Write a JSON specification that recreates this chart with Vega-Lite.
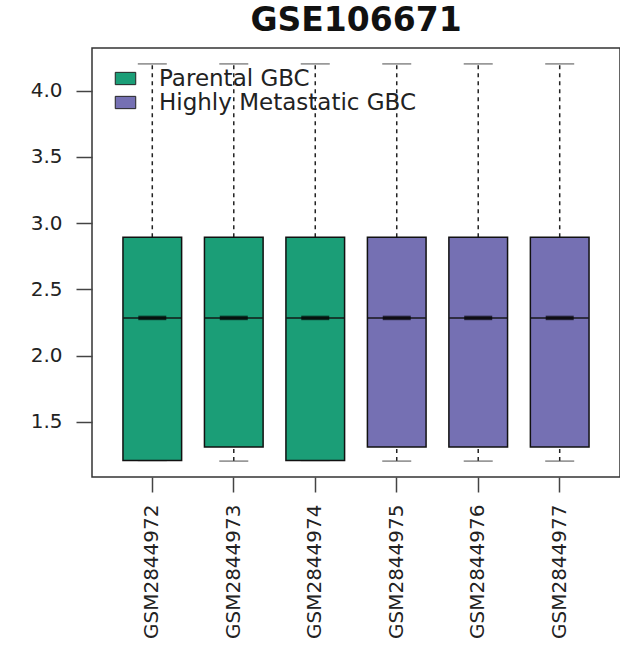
{
  "$schema": "https://vega.github.io/schema/vega-lite/v6.json",
  "width": 528,
  "height": 429,
  "autosize": {"type": "pad"},
  "padding": {"left": 30, "top": 5, "right": 0, "bottom": 5},
  "background": "white",
  "title": {"text": "GSE106671", "font": "DejaVu Sans", "fontWeight": "bold", "fontSize": 33, "color": "#111", "anchor": "middle", "frame": "group", "offset": 10},
  "config": {"view": {"stroke": "#333", "strokeWidth": 1.5}},
  "data": {"values": [
    {"sample": "GSM2844972", "group": "Parental GBC", "lower": 1.208, "q1": 1.208, "median": 2.284, "q3": 2.894, "upper": 4.202},
    {"sample": "GSM2844973", "group": "Parental GBC", "lower": 1.203, "q1": 1.31, "median": 2.284, "q3": 2.894, "upper": 4.202},
    {"sample": "GSM2844974", "group": "Parental GBC", "lower": 1.208, "q1": 1.208, "median": 2.284, "q3": 2.894, "upper": 4.202},
    {"sample": "GSM2844975", "group": "Highly Metastatic GBC", "lower": 1.203, "q1": 1.31, "median": 2.284, "q3": 2.894, "upper": 4.202},
    {"sample": "GSM2844976", "group": "Highly Metastatic GBC", "lower": 1.203, "q1": 1.31, "median": 2.284, "q3": 2.894, "upper": 4.202},
    {"sample": "GSM2844977", "group": "Highly Metastatic GBC", "lower": 1.203, "q1": 1.31, "median": 2.284, "q3": 2.894, "upper": 4.202}
  ]},
  "encoding": {
    "x": {
      "field": "sample", "type": "nominal", "sort": null,
      "scale": {"paddingInner": 0.28, "paddingOuter": 0.38},
      "axis": {"title": null, "labelAngle": -90, "labelAlign": "right", "labelBaseline": "middle", "tickSize": 15, "tickColor": "#444", "tickWidth": 1.5, "labelPadding": 12, "domain": false, "labelFontSize": 20, "labelFont": "DejaVu Sans", "labelColor": "#222", "labelLimit": 0}
    }
  },
  "layer": [
    {
      "mark": {"type": "rule", "strokeDash": [4, 4], "color": "#222", "strokeWidth": 1.5},
      "encoding": {
        "y": {"field": "q3", "type": "quantitative", "scale": {"domain": [1.083, 4.322], "nice": false, "zero": false},
          "axis": {"title": null, "values": [1.5, 2, 2.5, 3, 3.5, 4], "format": ".1f", "grid": false, "domain": false, "tickSize": 16, "tickColor": "#444", "tickWidth": 1.5, "labelFontSize": 20, "labelFont": "DejaVu Sans", "labelColor": "#222", "labelPadding": 14}},
        "y2": {"field": "upper"}
      }
    },
    {
      "mark": {"type": "rule", "strokeDash": [4, 4], "color": "#222", "strokeWidth": 1.5},
      "encoding": {"y": {"field": "lower", "type": "quantitative"}, "y2": {"field": "q1"}}
    },
    {
      "mark": {"type": "tick", "size": 29, "thickness": 1.5, "color": "#555"},
      "encoding": {"y": {"field": "upper", "type": "quantitative"}}
    },
    {
      "mark": {"type": "tick", "size": 29, "thickness": 1.5, "color": "#555"},
      "encoding": {"y": {"field": "lower", "type": "quantitative"}}
    },
    {
      "mark": {"type": "bar", "stroke": "#111", "strokeWidth": 1.5, "opacity": 1},
      "encoding": {
        "y": {"field": "q1", "type": "quantitative"},
        "y2": {"field": "q3"},
        "fill": {"field": "group", "type": "nominal",
          "scale": {"domain": ["Parental GBC", "Highly Metastatic GBC"], "range": ["#1B9E77", "#7570B3"]},
          "legend": {"orient": "none", "legendX": 22, "legendY": 19, "title": null, "labelFontSize": 23, "labelFont": "DejaVu Sans", "labelColor": "#222", "labelLimit": 0, "symbolType": "M-1,-0.6H1V0.6H-1Z", "symbolSize": 420, "symbolStrokeColor": "#222", "symbolStrokeWidth": 1, "symbolOpacity": 1, "labelOffset": 22, "rowPadding": 0}}
      }
    },
    {
      "mark": {"type": "tick", "size": 58, "thickness": 2, "color": "#111"},
      "encoding": {"y": {"field": "median", "type": "quantitative"}}
    },
    {
      "mark": {"type": "tick", "size": 28, "thickness": 4.5, "color": "#000"},
      "encoding": {"y": {"field": "median", "type": "quantitative"}}
    }
  ]
}
